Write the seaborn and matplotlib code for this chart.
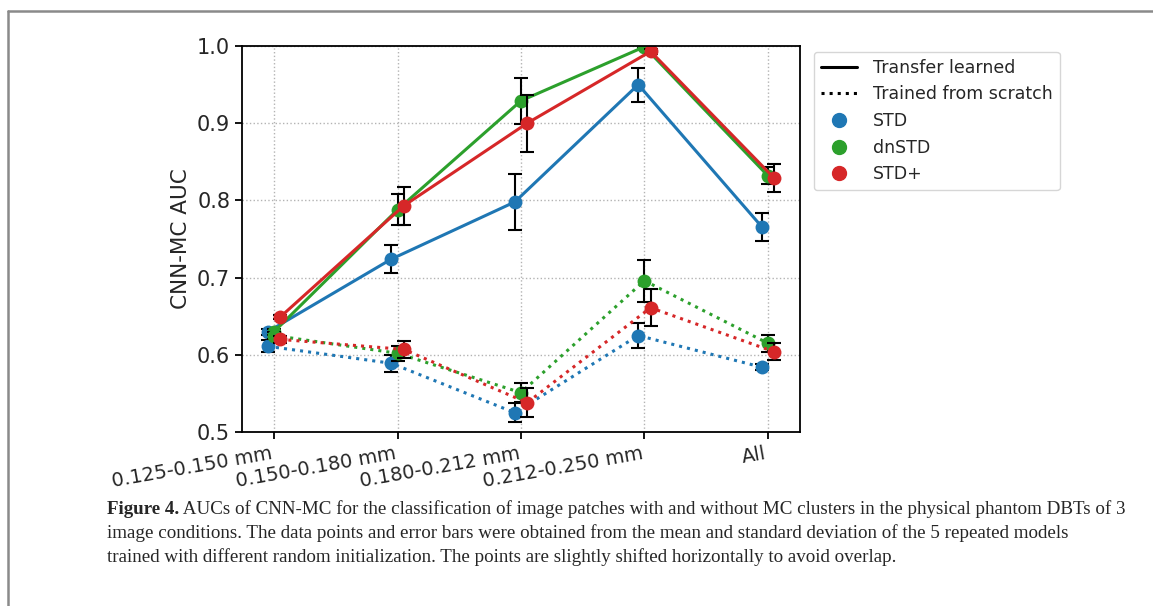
import numpy as np
import pandas as pd
import matplotlib
matplotlib.use("Agg")
import matplotlib.pyplot as plt
import seaborn as sns
from matplotlib.lines import Line2D

# ---- data ----
categories = ['0.125-0.150 mm', '0.150-0.180 mm', '0.180-0.212 mm', '0.212-0.250 mm', 'All']
models = ['STD', 'dnSTD', 'STD+']

std_tl = [0.630, 0.724, 0.798, 0.950, 0.766]
std_tl_err = [0.004, 0.018, 0.036, 0.022, 0.018]
dn_tl = [0.630, 0.788, 0.929, 0.999, 0.832]
dn_tl_err = [0.004, 0.020, 0.030, 0.002, 0.011]
plus_tl = [0.649, 0.793, 0.900, 0.993, 0.829]
plus_tl_err = [0.003, 0.025, 0.037, 0.003, 0.018]

std_sc = [0.611, 0.589, 0.525, 0.625, 0.584]
std_sc_err = [0.008, 0.011, 0.012, 0.016, 0.004]
dn_sc = [0.625, 0.602, 0.551, 0.696, 0.615]
dn_sc_err = [0.005, 0.010, 0.012, 0.027, 0.011]
plus_sc = [0.620, 0.607, 0.538, 0.661, 0.604]
plus_sc_err = [0.005, 0.011, 0.019, 0.024, 0.011]

caption_bold = "Figure 4."
caption_lines = [
    " AUCs of CNN-MC for the classification of image patches with and without MC clusters in the physical phantom DBTs of 3",
    "image conditions. The data points and error bars were obtained from the mean and standard deviation of the 5 repeated models",
    "trained with different random initialization. The points are slightly shifted horizontally to avoid overlap.",
]

# ---- style ----
sns.set_style("ticks")
plt.rcParams['font.family'] = ['DejaVu Sans']
colors = {'STD': '#1f77b4', 'dnSTD': '#2ca02c', 'STD+': '#d62728'}
shift = {'STD': -0.05, 'dnSTD': 0.0, 'STD+': 0.05}

series = {
    'STD': [(std_tl, std_tl_err, '-'), (std_sc, std_sc_err, ':')],
    'dnSTD': [(dn_tl, dn_tl_err, '-'), (dn_sc, dn_sc_err, ':')],
    'STD+': [(plus_tl, plus_tl_err, '-'), (plus_sc, plus_sc_err, ':')],
}

fig = plt.figure(figsize=(11.53, 6.06), dpi=100)
ax = fig.add_axes([0.2099, 0.2871, 0.4839, 0.6370])

base = np.arange(len(categories))
for m in models:
    for vals, errs, ls in series[m]:
        xs = base + shift[m]
        ax.errorbar(xs, vals, yerr=errs, fmt='none', ecolor='black',
                    elinewidth=1.5, capsize=5, capthick=1.5)
        df = pd.DataFrame({'x': xs, 'y': vals})
        sns.lineplot(data=df, x='x', y='y', ax=ax, color=colors[m],
                     linestyle=ls, linewidth=2.2, marker='o', markersize=10,
                     markeredgewidth=0, legend=False, sort=False)

ax.set_xlim(-0.26, 4.26)
ax.set_ylim(0.5, 1.0)
ax.set_yticks([0.5, 0.6, 0.7, 0.8, 0.9, 1.0])
ax.set_xticks(base)
ax.set_xticklabels(categories, rotation=10, ha='right', fontsize=14)
ax.tick_params(axis='y', labelsize=15)
ax.tick_params(axis='both', direction='out', length=5, width=1.3, color='black')
ax.set_xlabel('')
ax.set_ylabel('CNN-MC AUC', fontsize=15.5)
ax.grid(True, linestyle=':', color='0.7', linewidth=1)
for s in ax.spines.values():
    s.set_visible(True)
    s.set_color('black')
    s.set_linewidth(1.3)

handles = [
    Line2D([0], [0], color='black', linestyle='-', linewidth=2.2),
    Line2D([0], [0], color='black', linestyle=':', linewidth=2.2),
    Line2D([0], [0], color=colors['STD'], marker='o', linestyle='none', markersize=10),
    Line2D([0], [0], color=colors['dnSTD'], marker='o', linestyle='none', markersize=10),
    Line2D([0], [0], color=colors['STD+'], marker='o', linestyle='none', markersize=10),
]
labels = ['Transfer learned', 'Trained from scratch'] + models
ax.legend(handles, labels, loc='upper left', bbox_to_anchor=(1.025, 0.985),
          borderaxespad=0, fontsize=12.5, frameon=True, edgecolor='0.8',
          fancybox=True, handlelength=2.1, handletextpad=0.9)

# ---- page frame ----
fx = 8 / 1153
fy = 1 - 11 / 606
fig.add_artist(Line2D([fx, fx], [0, fy], transform=fig.transFigure, color='#8a8a8a', linewidth=1.8))
fig.add_artist(Line2D([fx, 1.0], [fy, fy], transform=fig.transFigure, color='#8a8a8a', linewidth=1.8))

# ---- caption ----
cap_font = ['Liberation Serif', 'DejaVu Serif']
cap_size = 13.65
x0 = 107 / 1153
ys = [1 - 514 / 606, 1 - 538 / 606, 1 - 562 / 606]
renderer = fig.canvas.get_renderer()
tb = fig.text(x0, ys[0], caption_bold, fontsize=cap_size, family=cap_font,
              fontweight='bold', va='baseline', ha='left')
bb = tb.get_window_extent(renderer=renderer)
fig.text(bb.x1 / fig.bbox.width, ys[0], caption_lines[0], fontsize=cap_size,
         family=cap_font, va='baseline', ha='left')
for i in (1, 2):
    fig.text(x0, ys[i], caption_lines[i], fontsize=cap_size, family=cap_font,
             va='baseline', ha='left')

fig.savefig('out.png', dpi=100)
